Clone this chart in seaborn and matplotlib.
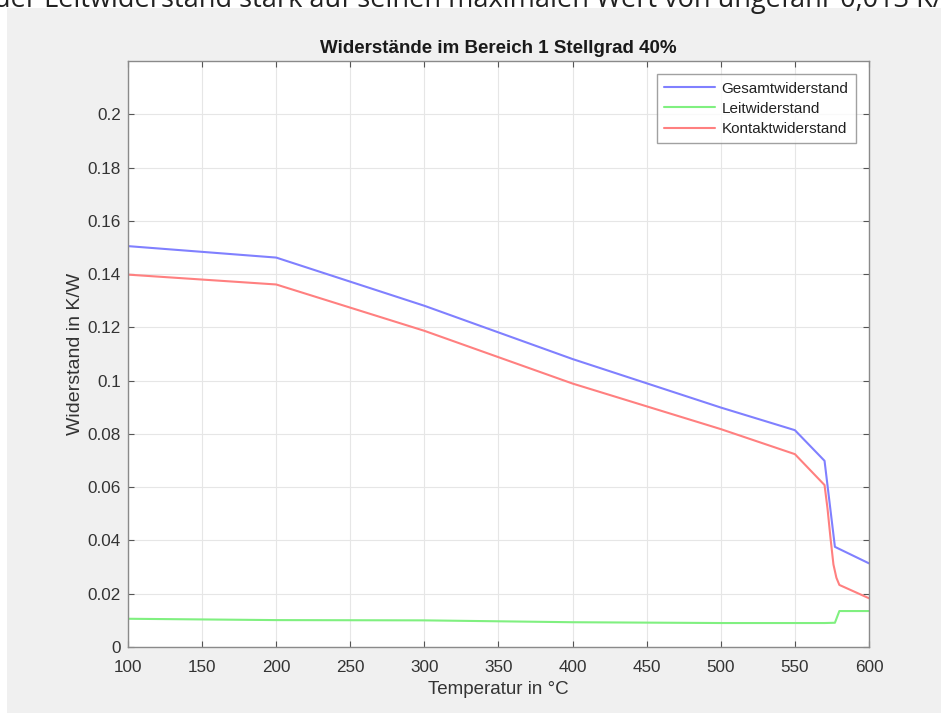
import pandas as pd
import seaborn as sns
import matplotlib.pyplot as plt
from matplotlib.patches import Rectangle
from matplotlib.ticker import FormatStrFormatter, MultipleLocator

# values
temp_gesamt = [100, 200, 300, 400, 500, 550, 570, 577, 600]
r_gesamt = [0.1505, 0.1462, 0.1281, 0.1081, 0.0899, 0.0814, 0.0699, 0.0376, 0.0314]

temp_leit = [100, 200, 300, 400, 500, 550, 570, 577, 580, 600]
r_leit = [0.0106, 0.0101, 0.0100, 0.0093, 0.0090, 0.0090, 0.0090, 0.0091, 0.0135, 0.0135]

temp_kontakt = [100, 200, 300, 400, 500, 550, 570, 572, 574, 576, 578, 580, 600]
r_kontakt = [0.1398, 0.1361, 0.1187, 0.0989, 0.0818, 0.0724, 0.0608, 0.052, 0.041, 0.031, 0.026, 0.0233, 0.0183]

names = ["Gesamtwiderstand", "Leitwiderstand", "Kontaktwiderstand"]
colors = ["#8080ff", "#80f080", "#ff8080"]

df = pd.concat([
    pd.DataFrame({"Temperatur": temp_gesamt, "Widerstand": r_gesamt, "Reihe": names[0]}),
    pd.DataFrame({"Temperatur": temp_leit, "Widerstand": r_leit, "Reihe": names[1]}),
    pd.DataFrame({"Temperatur": temp_kontakt, "Widerstand": r_kontakt, "Reihe": names[2]}),
])

sns.set_style("ticks")
plt.rcParams['font.family'] = ['Liberation Sans', 'DejaVu Sans']

fig = plt.figure(figsize=(9.41, 7.13), dpi=100)
fig.patch.set_facecolor("white")
fig.patches.append(Rectangle((7 / 941, 0), 1, (713 - 8) / 713, transform=fig.transFigure,
                             facecolor="#f0f0f0", edgecolor="none", zorder=-10))

# cut-off text line from the document above the figure
fig.text(-6 / 941, 1 - 7 / 713, "der Leitwiderstand stark auf seinen maximalen Wert von ungefähr 0,013 K/W",
         fontsize=19.5, family=["Open Sans", "DejaVu Sans"], color="#222222", va="baseline", ha="left")

ax = fig.add_axes([128 / 941, 66 / 713, 741 / 941, 586 / 713])
ax.set_facecolor("white")
sns.lineplot(data=df, x="Temperatur", y="Widerstand", hue="Reihe", hue_order=names,
             palette=colors, estimator=None, linewidth=1.5, ax=ax)

ax.set_xlim(100, 600)
ax.set_ylim(0, 0.22)
ax.xaxis.set_major_locator(MultipleLocator(50))
ax.yaxis.set_major_formatter(FormatStrFormatter("%g"))
ax.set_yticks([0, 0.02, 0.04, 0.06, 0.08, 0.1, 0.12, 0.14, 0.16, 0.18, 0.2])
ax.grid(True, color="#e6e6e6", linewidth=0.8)
ax.set_axisbelow(True)
ax.tick_params(direction="in", length=4, color="#555555", labelcolor="#333333", labelsize=12.3,
               top=True, right=True)
ax.tick_params(axis="y", pad=5)
ax.tick_params(axis="x", pad=9)
for s in ax.spines.values():
    s.set_color("#8a8a8a")
    s.set_linewidth(1.0)

ax.set_title("Widerstände im Bereich 1 Stellgrad 40%", fontsize=13.5, fontweight="bold", color="#1a1a1a", pad=6)
ax.set_xlabel("Temperatur in °C", fontsize=13.5, color="#333333", labelpad=5)
ax.set_ylabel("Widerstand in K/W", fontsize=14, color="#333333", labelpad=3)

leg = ax.legend(loc="upper right", bbox_to_anchor=(1 - 13 / 741, 1 - 13 / 586), fontsize=11,
                frameon=True, fancybox=False, borderaxespad=0, handlelength=3.3, labelspacing=0.4,
                borderpad=0.5, handletextpad=0.45)
leg.get_frame().set_edgecolor("#8a8a8a")
leg.get_frame().set_linewidth(1.0)
for t in leg.get_texts():
    t.set_color("#222222")

fig.savefig("out.png", dpi=100)
